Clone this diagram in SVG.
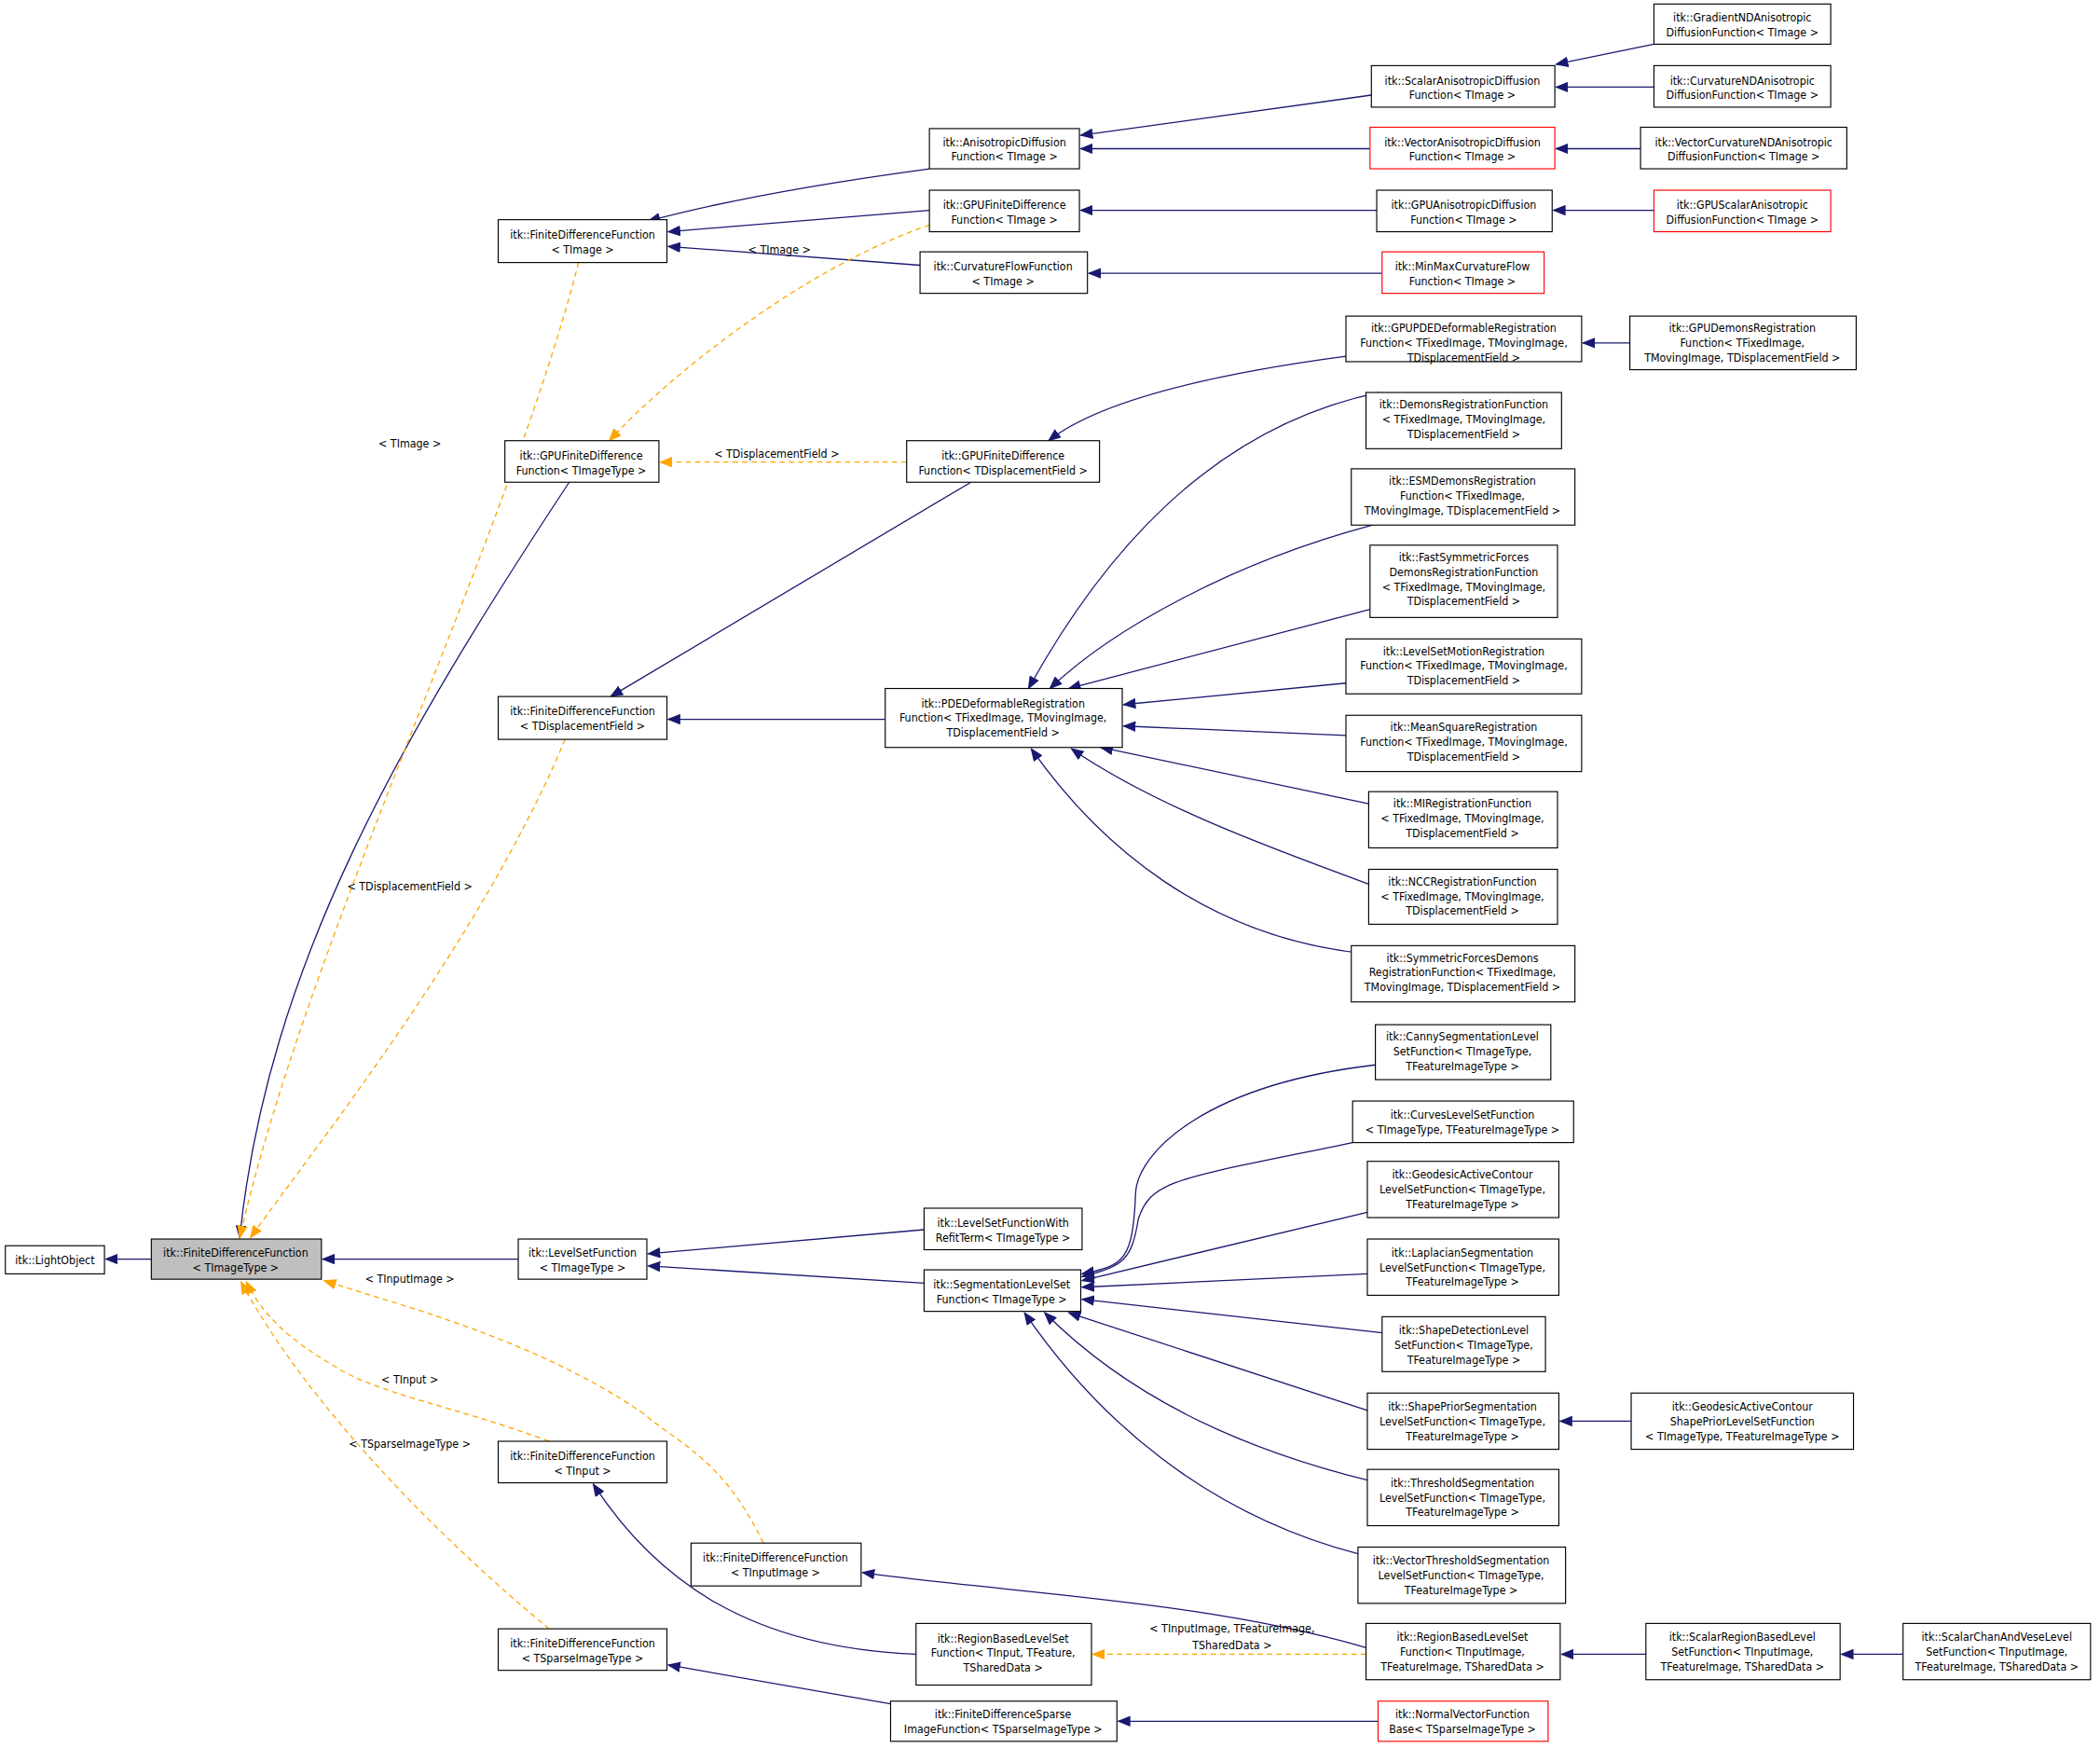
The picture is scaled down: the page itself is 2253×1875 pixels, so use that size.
<svg xmlns="http://www.w3.org/2000/svg" width="2253" height="1875" viewBox="0 0 2253 1875">
<style>
rect{fill:#fff;stroke:#000;stroke-width:0.8}
.r rect{stroke:#ff0000}
.g rect{fill:#bfbfbf}
text{font-family:"DejaVu Sans Condensed","DejaVu Sans",sans-serif;font-size:8.6px;text-anchor:middle;fill:#000}
.e path{fill:none;stroke:#191970;stroke-width:0.9;marker-end:url(#a)}
.e path.d{stroke:#ffa500;stroke-dasharray:4,3;marker-end:url(#o)}
</style>
<defs>
<marker id="a" markerWidth="10" markerHeight="8" refX="9" refY="4" orient="auto" markerUnits="userSpaceOnUse"><path d="M0,0L10,4L0,8z" fill="#191970"/></marker>
<marker id="o" markerWidth="10" markerHeight="8" refX="9" refY="4" orient="auto" markerUnits="userSpaceOnUse"><path d="M0,0L10,4L0,8z" fill="#ffa500"/></marker>
</defs>
<rect x="0" y="0" width="2253" height="1875" style="fill:#fff;stroke:none"/>
<g transform="scale(1.4368)">
<g class="e" id="edges">
<path d="M113,940L79,940"/>
<path d="M387,940L241,940"/>
<path d="M425,360C300,550 200,720 179,924"/>
<path class="d" d="M432,196C380,400 230,700 179,924"/>
<path class="d" d="M422,552C360,700 240,850 187,924"/>
<path class="d" d="M570,1152C540,1090 510,1080 480,1055C400,1000 300,975 242,956"/>
<path class="d" d="M410,1076C340,1050 280,1040 250,1020C215,1000 195,980 184,957"/>
<path class="d" d="M410,1216C330,1150 230,1050 180,957"/>
<path d="M694,126C620,136 540,150 484,165"/>
<path d="M694,157L499,173"/>
<path d="M687,198L499,184"/>
<path class="d" d="M694,168C600,200 500,280 455,329"/>
<path d="M1024,71L807,101"/>
<path d="M1023,111L807,111"/>
<path d="M1235,33L1162,48"/>
<path d="M1235,65L1162,65"/>
<path d="M1225,111L1162,111"/>
<path d="M1028,157L807,157"/>
<path d="M1235,157L1160,157"/>
<path d="M1032,204L813,204"/>
<path d="M1005,266C900,280 820,300 783,329"/>
<path d="M1217,256L1182,256"/>
<path class="d" d="M677,345L493,345"/>
<path d="M661,537L499,537"/>
<path d="M725,360L456,520"/>
<path d="M1030,293C900,320 820,420 768,514"/>
<path d="M1025,392C920,420 830,470 784,514"/>
<path d="M1023,455L798,514"/>
<path d="M1005,510L839,526"/>
<path d="M1005,549L839,542"/>
<path d="M1022,600L822,558"/>
<path d="M1022,660C940,630 860,600 800,559"/>
<path d="M1020,712C900,700 820,630 770,559"/>
<path d="M1027,795C900,810 850,860 848,890C846,940 840,945 808,951"/>
<path d="M1010,853C880,880 860,880 850,910C845,940 840,945 808,953"/>
<path d="M1021,905L808,956"/>
<path d="M1021,951L808,961"/>
<path d="M1032,995L808,970"/>
<path d="M1021,1053L798,980"/>
<path d="M1021,1105C920,1080 840,1040 780,980"/>
<path d="M1014,1160C900,1130 820,1060 765,980"/>
<path d="M1218,1061L1165,1061"/>
<path d="M690,918L484,936"/>
<path d="M690,958L484,945"/>
<path d="M1020,1230C900,1195 760,1190 644,1174"/>
<path d="M684,1235C560,1230 490,1180 443,1108"/>
<path class="d" d="M1020,1235L816,1235"/>
<path d="M1229,1235L1166,1235"/>
<path d="M1421,1235L1375,1235"/>
<path d="M665,1272L499,1243"/>
<path d="M1029,1285L835,1285"/>
</g>
<text x="582" y="189">&lt; TImage &gt;</text>
<text x="306" y="334">&lt; TImage &gt;</text>
<text x="580" y="342">&lt; TDisplacementField &gt;</text>
<text x="306" y="665">&lt; TDisplacementField &gt;</text>
<text x="306" y="958">&lt; TInputImage &gt;</text>
<text x="306" y="1033">&lt; TInput &gt;</text>
<text x="306" y="1081">&lt; TSparseImageType &gt;</text>
<text x="920" y="1219">&lt; TInputImage, TFeatureImage,</text>
<text x="920" y="1231">TSharedData &gt;</text>

<g id="n1"><rect x="4" y="930" width="74" height="21"/><text x="41" y="944">itk::LightObject</text></g>
<g id="n2" class="g"><rect x="113" y="925" width="127" height="30"/><text x="176" y="938">itk::FiniteDifferenceFunction</text><text x="176" y="949">&lt; TImageType &gt;</text></g>
<g id="n3"><rect x="372" y="164" width="126" height="32"/><text x="435" y="178">itk::FiniteDifferenceFunction</text><text x="435" y="189">&lt; TImage &gt;</text></g>
<g id="n4"><rect x="377" y="329" width="115" height="31"/><text x="434" y="343">itk::GPUFiniteDifference</text><text x="434" y="354">Function&lt; TImageType &gt;</text></g>
<g id="n5"><rect x="372" y="520" width="126" height="32"/><text x="435" y="534">itk::FiniteDifferenceFunction</text><text x="435" y="545">&lt; TDisplacementField &gt;</text></g>
<g id="n6"><rect x="387" y="925" width="96" height="30"/><text x="435" y="938">itk::LevelSetFunction</text><text x="435" y="949">&lt; TImageType &gt;</text></g>
<g id="n7"><rect x="372" y="1076" width="126" height="31"/><text x="435" y="1090">itk::FiniteDifferenceFunction</text><text x="435" y="1101">&lt; TInput &gt;</text></g>
<g id="n8"><rect x="516" y="1152" width="127" height="32"/><text x="579" y="1166">itk::FiniteDifferenceFunction</text><text x="579" y="1177">&lt; TInputImage &gt;</text></g>
<g id="n9"><rect x="372" y="1216" width="126" height="31"/><text x="435" y="1230">itk::FiniteDifferenceFunction</text><text x="435" y="1241">&lt; TSparseImageType &gt;</text></g>

<g id="n10"><rect x="694" y="96" width="112" height="30"/><text x="750" y="109">itk::AnisotropicDiffusion</text><text x="750" y="120">Function&lt; TImage &gt;</text></g>
<g id="n11"><rect x="694" y="142" width="112" height="31"/><text x="750" y="156">itk::GPUFiniteDifference</text><text x="750" y="167">Function&lt; TImage &gt;</text></g>
<g id="n12"><rect x="687" y="188" width="125" height="31"/><text x="749" y="202">itk::CurvatureFlowFunction</text><text x="749" y="213">&lt; TImage &gt;</text></g>
<g id="n13"><rect x="677" y="329" width="144" height="31"/><text x="749" y="343">itk::GPUFiniteDifference</text><text x="749" y="354">Function&lt; TDisplacementField &gt;</text></g>
<g id="n14"><rect x="661" y="514" width="177" height="44"/><text x="749" y="528">itk::PDEDeformableRegistration</text><text x="749" y="539">Function&lt; TFixedImage, TMovingImage,</text><text x="749" y="550">TDisplacementField &gt;</text></g>
<g id="n15"><rect x="690" y="902" width="118" height="31"/><text x="749" y="916">itk::LevelSetFunctionWith</text><text x="749" y="927">RefitTerm&lt; TImageType &gt;</text></g>
<g id="n16"><rect x="690" y="948" width="117" height="31"/><text x="748" y="962">itk::SegmentationLevelSet</text><text x="748" y="973">Function&lt; TImageType &gt;</text></g>
<g id="n17"><rect x="684" y="1212" width="131" height="46"/><text x="749" y="1226">itk::RegionBasedLevelSet</text><text x="749" y="1237">Function&lt; TInput, TFeature,</text><text x="749" y="1248">TSharedData &gt;</text></g>
<g id="n18"><rect x="665" y="1270" width="169" height="30"/><text x="749" y="1283">itk::FiniteDifferenceSparse</text><text x="749" y="1294">ImageFunction&lt; TSparseImageType &gt;</text></g>

<g id="n19"><rect x="1024" y="49" width="137" height="31"/><text x="1092" y="63">itk::ScalarAnisotropicDiffusion</text><text x="1092" y="74">Function&lt; TImage &gt;</text></g>
<g id="n20" class="r"><rect x="1023" y="95" width="138" height="31"/><text x="1092" y="109">itk::VectorAnisotropicDiffusion</text><text x="1092" y="120">Function&lt; TImage &gt;</text></g>
<g id="n21"><rect x="1028" y="142" width="131" height="31"/><text x="1093" y="156">itk::GPUAnisotropicDiffusion</text><text x="1093" y="167">Function&lt; TImage &gt;</text></g>
<g id="n22" class="r"><rect x="1032" y="188" width="121" height="31"/><text x="1092" y="202">itk::MinMaxCurvatureFlow</text><text x="1092" y="213">Function&lt; TImage &gt;</text></g>
<g id="n23"><rect x="1005" y="236" width="176" height="34"/><text x="1093" y="248">itk::GPUPDEDeformableRegistration</text><text x="1093" y="259">Function&lt; TFixedImage, TMovingImage,</text><text x="1093" y="270">TDisplacementField &gt;</text></g>
<g id="n24"><rect x="1020" y="293" width="146" height="42"/><text x="1093" y="305">itk::DemonsRegistrationFunction</text><text x="1093" y="316">&lt; TFixedImage, TMovingImage,</text><text x="1093" y="327">TDisplacementField &gt;</text></g>
<g id="n25"><rect x="1009" y="350" width="167" height="42"/><text x="1092" y="362">itk::ESMDemonsRegistration</text><text x="1092" y="373">Function&lt; TFixedImage,</text><text x="1092" y="384">TMovingImage, TDisplacementField &gt;</text></g>
<g id="n26"><rect x="1023" y="407" width="140" height="54"/><text x="1093" y="419">itk::FastSymmetricForces</text><text x="1093" y="430">DemonsRegistrationFunction</text><text x="1093" y="441">&lt; TFixedImage, TMovingImage,</text><text x="1093" y="452">TDisplacementField &gt;</text></g>
<g id="n27"><rect x="1005" y="477" width="176" height="41"/><text x="1093" y="489">itk::LevelSetMotionRegistration</text><text x="1093" y="500">Function&lt; TFixedImage, TMovingImage,</text><text x="1093" y="511">TDisplacementField &gt;</text></g>
<g id="n28"><rect x="1005" y="534" width="176" height="42"/><text x="1093" y="546">itk::MeanSquareRegistration</text><text x="1093" y="557">Function&lt; TFixedImage, TMovingImage,</text><text x="1093" y="568">TDisplacementField &gt;</text></g>
<g id="n29"><rect x="1022" y="591" width="141" height="42"/><text x="1092" y="603">itk::MIRegistrationFunction</text><text x="1092" y="614">&lt; TFixedImage, TMovingImage,</text><text x="1092" y="625">TDisplacementField &gt;</text></g>
<g id="n30"><rect x="1022" y="649" width="141" height="41"/><text x="1092" y="661">itk::NCCRegistrationFunction</text><text x="1092" y="672">&lt; TFixedImage, TMovingImage,</text><text x="1092" y="683">TDisplacementField &gt;</text></g>
<g id="n31"><rect x="1009" y="706" width="167" height="42"/><text x="1092" y="718">itk::SymmetricForcesDemons</text><text x="1092" y="729">RegistrationFunction&lt; TFixedImage,</text><text x="1092" y="740">TMovingImage, TDisplacementField &gt;</text></g>
<g id="n32"><rect x="1027" y="765" width="131" height="41"/><text x="1092" y="777">itk::CannySegmentationLevel</text><text x="1092" y="788">SetFunction&lt; TImageType,</text><text x="1092" y="799">TFeatureImageType &gt;</text></g>
<g id="n33"><rect x="1010" y="822" width="165" height="31"/><text x="1092" y="835">itk::CurvesLevelSetFunction</text><text x="1092" y="846">&lt; TImageType, TFeatureImageType &gt;</text></g>
<g id="n34"><rect x="1021" y="867" width="143" height="42"/><text x="1092" y="880">itk::GeodesicActiveContour</text><text x="1092" y="891">LevelSetFunction&lt; TImageType,</text><text x="1092" y="902">TFeatureImageType &gt;</text></g>
<g id="n35"><rect x="1021" y="925" width="143" height="42"/><text x="1092" y="938">itk::LaplacianSegmentation</text><text x="1092" y="949">LevelSetFunction&lt; TImageType,</text><text x="1092" y="960">TFeatureImageType &gt;</text></g>
<g id="n36"><rect x="1032" y="983" width="122" height="41"/><text x="1093" y="996">itk::ShapeDetectionLevel</text><text x="1093" y="1007">SetFunction&lt; TImageType,</text><text x="1093" y="1018">TFeatureImageType &gt;</text></g>
<g id="n37"><rect x="1021" y="1040" width="143" height="42"/><text x="1092" y="1053">itk::ShapePriorSegmentation</text><text x="1092" y="1064">LevelSetFunction&lt; TImageType,</text><text x="1092" y="1075">TFeatureImageType &gt;</text></g>
<g id="n38"><rect x="1021" y="1097" width="143" height="42"/><text x="1092" y="1110">itk::ThresholdSegmentation</text><text x="1092" y="1121">LevelSetFunction&lt; TImageType,</text><text x="1092" y="1132">TFeatureImageType &gt;</text></g>
<g id="n39"><rect x="1014" y="1155" width="155" height="42"/><text x="1091" y="1168">itk::VectorThresholdSegmentation</text><text x="1091" y="1179">LevelSetFunction&lt; TImageType,</text><text x="1091" y="1190">TFeatureImageType &gt;</text></g>
<g id="n40"><rect x="1020" y="1212" width="145" height="42"/><text x="1092" y="1225">itk::RegionBasedLevelSet</text><text x="1092" y="1236">Function&lt; TInputImage,</text><text x="1092" y="1247">TFeatureImage, TSharedData &gt;</text></g>
<g id="n41" class="r"><rect x="1029" y="1270" width="127" height="30"/><text x="1092" y="1283">itk::NormalVectorFunction</text><text x="1092" y="1294">Base&lt; TSparseImageType &gt;</text></g>

<g id="n42"><rect x="1235" y="3" width="132" height="30"/><text x="1301" y="16">itk::GradientNDAnisotropic</text><text x="1301" y="27">DiffusionFunction&lt; TImage &gt;</text></g>
<g id="n43"><rect x="1235" y="49" width="132" height="31"/><text x="1301" y="63">itk::CurvatureNDAnisotropic</text><text x="1301" y="74">DiffusionFunction&lt; TImage &gt;</text></g>
<g id="n44"><rect x="1225" y="95" width="154" height="31"/><text x="1302" y="109">itk::VectorCurvatureNDAnisotropic</text><text x="1302" y="120">DiffusionFunction&lt; TImage &gt;</text></g>
<g id="n45" class="r"><rect x="1235" y="142" width="132" height="31"/><text x="1301" y="156">itk::GPUScalarAnisotropic</text><text x="1301" y="167">DiffusionFunction&lt; TImage &gt;</text></g>
<g id="n46"><rect x="1217" y="236" width="169" height="40"/><text x="1301" y="248">itk::GPUDemonsRegistration</text><text x="1301" y="259">Function&lt; TFixedImage,</text><text x="1301" y="270">TMovingImage, TDisplacementField &gt;</text></g>
<g id="n47"><rect x="1218" y="1040" width="166" height="42"/><text x="1301" y="1053">itk::GeodesicActiveContour</text><text x="1301" y="1064">ShapePriorLevelSetFunction</text><text x="1301" y="1075">&lt; TImageType, TFeatureImageType &gt;</text></g>
<g id="n48"><rect x="1229" y="1212" width="145" height="42"/><text x="1301" y="1225">itk::ScalarRegionBasedLevel</text><text x="1301" y="1236">SetFunction&lt; TInputImage,</text><text x="1301" y="1247">TFeatureImage, TSharedData &gt;</text></g>
<g id="n49"><rect x="1421" y="1212" width="140" height="42"/><text x="1491" y="1225">itk::ScalarChanAndVeseLevel</text><text x="1491" y="1236">SetFunction&lt; TInputImage,</text><text x="1491" y="1247">TFeatureImage, TSharedData &gt;</text></g>
</g>
</svg>
